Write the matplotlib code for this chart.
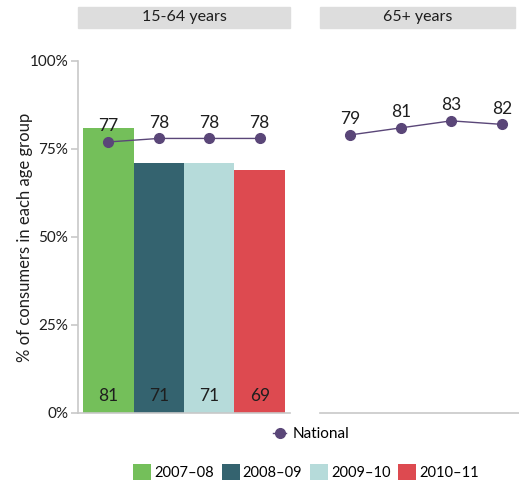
import matplotlib
matplotlib.use("Agg")
import matplotlib.pyplot as plt
from matplotlib.patches import Patch, Rectangle
from matplotlib.lines import Line2D

plt.rcParams['font.family'] = ['Lato', 'DejaVu Sans']

years = ["2007–08", "2008–09", "2009–10", "2010–11"]
panels = ["15-64 years", "65+ years"]
bar_values = {"15-64 years": [81, 71, 71, 69], "65+ years": None}
national_values = {"15-64 years": [77, 78, 78, 78], "65+ years": [79, 81, 83, 82]}
yticks = [0, 25, 50, 75, 100]
ytick_labels = ["0%", "25%", "50%", "75%", "100%"]

bar_colors = ["#74BF5A", "#34636F", "#B6DBDA", "#DD4A50"]
line_color = "#5A4678"
grey = "#C8C8C8"
strip_bg = "#DDDDDD"
text_color = "#1e1e1e"

W, H = 519, 482
fig = plt.figure(figsize=(W / 100, H / 100), dpi=100)

def fx(px):
    return px / W

def fy(py):
    return 1 - py / H

bottom_px, top_px = 413, 61
ax_h = (bottom_px - top_px) / H
ax_b = fy(bottom_px)
panel_left = [78, 320]
panel_w = 212
strip_right = [290, 515]

xs = [1, 2, 3, 4]
for i, name in enumerate(panels):
    ax = fig.add_axes([fx(panel_left[i]), ax_b, panel_w / W, ax_h])
    ax.set_xlim(0.4, 4.6)
    ax.set_ylim(0, 100)
    for s in ["top", "right"]:
        ax.spines[s].set_visible(False)
    ax.spines["bottom"].set_color(grey)
    ax.spines["bottom"].set_linewidth(1.2)
    ax.set_xticks([])
    if i == 0:
        ax.spines["left"].set_color(grey)
        ax.spines["left"].set_linewidth(1.2)
        ax.set_yticks(yticks)
        ax.set_yticklabels(ytick_labels, fontsize=11, color=text_color)
        ax.tick_params(axis="y", length=5, color=grey, width=1.2, pad=2)
        ax.set_ylabel("% of consumers in each age group", fontsize=12,
                      color=text_color)
        ax.yaxis.set_label_coords((33 - 78) / panel_w, 0.5)
    else:
        ax.spines["left"].set_visible(False)
        ax.set_yticks([])

    vals = bar_values[name]
    if vals is not None:
        ax.bar(xs, vals, width=1.0, color=bar_colors, zorder=1)
        for x, v in zip(xs, vals):
            ax.text(x, 4.8, f"{v}", ha="center", va="center", fontsize=12.5,
                    color=text_color, zorder=4)

    nat = national_values[name]
    ax.plot(xs, nat, color=line_color, lw=1.0, marker="o", markersize=7,
            zorder=3, clip_on=False)
    for x, v in zip(xs, nat):
        ax.text(x, v + 2.2, f"{v}", ha="center", va="bottom", fontsize=12.5,
                color=text_color, zorder=4)

    # facet strip
    fig.patches.append(Rectangle((fx(panel_left[i]), fy(28)),
                                 fx(strip_right[i] - panel_left[i]), 21 / H,
                                 transform=fig.transFigure, color=strip_bg,
                                 zorder=0))
    fig.text(fx((panel_left[i] + strip_right[i]) / 2), fy(17.5), name,
             ha="center", va="center", fontsize=11.5, color=text_color)

nat_handle = Line2D([], [], color=line_color, lw=1.0, marker="o", markersize=7)
fig.legend([nat_handle], ["National"], loc="center",
           bbox_to_anchor=(fx(311), fy(434)), frameon=False, fontsize=11,
           handlelength=0.9, handletextpad=0.4, borderpad=0)

bar_handles = [Patch(facecolor=c) for c in bar_colors]
fig.legend(bar_handles, years, loc="center", ncol=4,
           bbox_to_anchor=(fx(306), fy(472)), frameon=False, fontsize=10.5,
           handlelength=1.23, handleheight=1.3, handletextpad=0.2,
           columnspacing=0.55, borderpad=0)

fig.savefig("out.png", dpi=100)
